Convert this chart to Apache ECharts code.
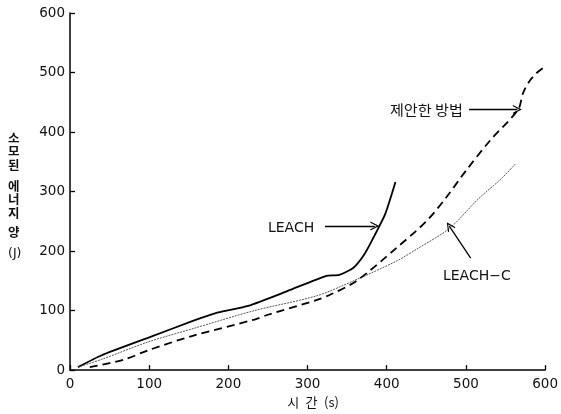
<!DOCTYPE html>
<html><head><meta charset="utf-8">
<script src="https://cdn.jsdelivr.net/npm/echarts@6/dist/echarts.min.js"></script>
<style>html,body{margin:0;padding:0;background:#fff}#c{width:561px;height:414px}</style>
</head><body><div id="c"></div>
<script>
// Data (x: time in s, y: consumed energy in J)
var leach = [[10,5],[40,25],[100,55],[156,83],[187,97],[225,108],[275,133],[323,158],[340,160],[358,172],[372,195],[383,222],[398,262],[411,316]];
var leachC = [[10,5],[40,18],[98,47],[156,70],[233,100],[312,125],[358,150],[412,183],[440,205],[479,238],[516,288],[545,322],[563,347]];
var proposed = [[25,5],[69,18],[98,33],[156,58],[233,85],[250,93],[312,118],[329,127],[362,150],[412,205],[450,250],[475,290],[500,335],[530,385],[566,438],[572,465],[580,485],[590,500],[600,510]];
var xTicks = [0,100,200,300,400,500,600];
var yTicks = [0,100,200,300,400,500,600];
var yNameParts = ['소\n모\n된', '에\n너\n지', '양', '(J)'];
var xName = '시\u2002간\u2002(s)';
// annotations in data coordinates
var annLeach = {text:'LEACH', at:[250,238], from:[322,242], to:[385,242]};
var annProp = {text:'제안한 방법', at:[404,437], from:[504,438], to:[565,438]};
var annLeachC = {text:'LEACH\u2212C', at:[471,157], from:[506,188], to:[479,242]};

var chevron = 'path://M0,10 L5,0 L10,10 L8.6,10 L5,2.8 L1.4,10 Z';
var latin = '"DejaVu Sans", "Liberation Sans", sans-serif';
var tickFont = {fontFamily:latin, fontSize:13.5, color:'#111'};
var korFont = '"Noto Sans CJK KR", sans-serif';

function arrow(a){
  return {symbol:['none', chevron], symbolSize:[9,9], silent:true, animation:false,
    lineStyle:{color:'#000', type:'solid', width:1.3}, label:{show:false},
    data:[[{coord:a.from},{coord:a.to}]]};
}

var chart = echarts.init(document.getElementById('c'), null, {renderer:'canvas'});
chart.setOption({
  animation:false,
  backgroundColor:'#fff',
  grid:{left:70, right:11, top:13, bottom:41},
  xAxis:{type:'value', min:0, max:600, interval:100,
    axisLine:{lineStyle:{color:'#000', width:1.5}},
    axisTick:{inside:true, length:5, lineStyle:{color:'#000', width:1.3}},
    axisLabel:Object.assign({margin:7, formatter:function(v){return xTicks.indexOf(v)>=0?String(v):'';}}, tickFont),
    splitLine:{show:false},
    name:xName, nameLocation:'middle', nameGap:24,
    nameTextStyle:{fontFamily:korFont, fontSize:13, color:'#111', padding:[0,0,0,11]}},
  yAxis:{type:'value', min:0, max:600, interval:100,
    axisLine:{show:true, lineStyle:{color:'#000', width:1.5}},
    axisTick:{show:true, inside:true, length:5, lineStyle:{color:'#000', width:1.3}},
    axisLabel:Object.assign({margin:5, formatter:function(v){return yTicks.indexOf(v)>=0?String(v):'';}}, tickFont),
    splitLine:{show:false}},
  series:[
    {name:'LEACH', type:'line', data:leach, showSymbol:false, smooth:0.2,
      lineStyle:{color:'#000', width:1.8}, markLine:arrow(annLeach)},
    {name:'LEACH-C', type:'line', data:leachC, showSymbol:false, smooth:0.3,
      lineStyle:{color:'#444', width:0.9, type:[2,1]}, markLine:arrow(annLeachC)},
    {name:'proposed', type:'line', data:proposed, showSymbol:false, smooth:0.3,
      lineStyle:{color:'#000', width:1.8, type:[8,5]}, markLine:arrow(annProp)}
  ]
});

function labelAt(a, font, size, sx){
  var p = chart.convertToPixel({gridIndex:0}, a.at);
  return {type:'text', x:p[0], y:p[1], scaleX:sx, style:{text:a.text, font:size+'px '+font, fill:'#111', verticalAlign:'middle'}};
}
chart.setOption({
  graphic:[
    {type:'text', left:8, top:131, style:{text:yNameParts[0], font:'600 12.5px '+korFont, fill:'#111', lineHeight:13.5}},
    {type:'text', left:8, top:179, style:{text:yNameParts[1], font:'600 12.5px '+korFont, fill:'#111', lineHeight:13.5}},
    {type:'text', left:8, top:225, style:{text:yNameParts[2], font:'600 12.5px '+korFont, fill:'#111', lineHeight:13.5}},
    {type:'text', left:8, top:247, style:{text:yNameParts[3], font:'12.5px '+latin, fill:'#111', lineHeight:13.5}},
    labelAt(annLeach, latin, 14, 1),
    labelAt(annProp, korFont, 13.5, 1.12),
    labelAt(annLeachC, latin, 14, 1)
  ]
});
</script></body></html>
